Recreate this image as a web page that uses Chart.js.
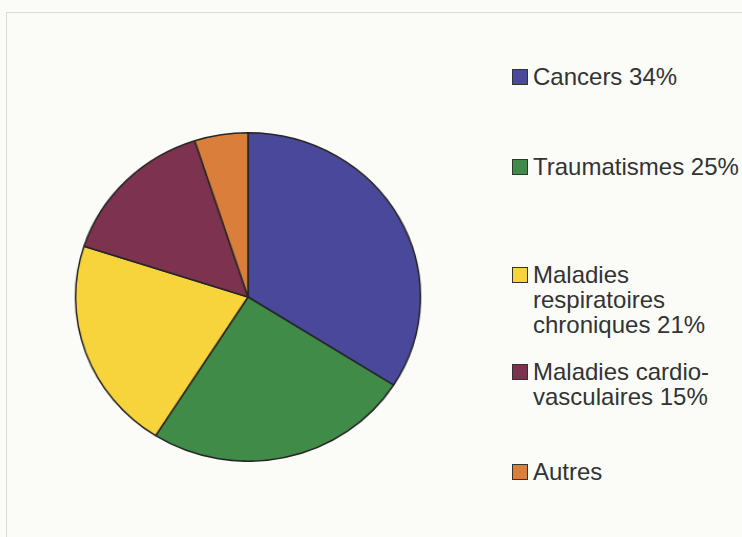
<!DOCTYPE html>
<html>
<head>
<meta charset="utf-8">
<script src="https://cdn.jsdelivr.net/npm/chart.js@4/dist/chart.umd.min.js"></script>
<style>
  html, body { margin: 0; padding: 0; }
  body { width: 742px; height: 537px; background: #FBFCF7; position: relative; overflow: hidden;
         font-family: "Liberation Sans", Arial, sans-serif; }
  #frame { position: absolute; left: 6px; top: 12px; width: 760px; height: 560px;
           border-left: 1px solid #dadad2; border-top: 1px solid #dadad2; }
  #pieWrap { position: absolute; left: 83px; top: 132px; width: 330px; height: 330px;
             transform: scaleX(1.05); transform-origin: 50% 50%; }
  .lg { position: absolute; left: 512px; font-size: 24px; line-height: 25px; color: #333333; }
  .lg .sw { position: absolute; left: 0; width: 14px; height: 14px; border: 1px solid #333; }
  .lg .tx { position: absolute; left: 21px; white-space: nowrap; }
</style>
</head>
<body>
<div id="frame"></div>
<div id="pieWrap"><canvas id="c"></canvas></div>
<div id="legend"></div>
<script>
const categories = ["Cancers", "Traumatismes", "Maladies respiratoires chroniques", "Maladies cardio-vasculaires", "Autres"];
const values = [34, 25, 21, 15, 5];
const legendLines = [
  ["Cancers 34%"],
  ["Traumatismes 25%"],
  ["Maladies", "respiratoires", "chroniques 21%"],
  ["Maladies cardio-", "vasculaires 15%"],
  ["Autres"]
];
const colors = ["#4A489A", "#3F8B47", "#F8D43C", "#7D3350", "#DA7E3B"];
const legendBaselines = [85, 175, 283, 380, 480];

new Chart(document.getElementById("c"), {
  type: "pie",
  data: {
    labels: categories,
    datasets: [{
      data: values,
      backgroundColor: colors,
      borderColor: "#262626",
      borderWidth: 1.5
    }]
  },
  options: {
    responsive: true,
    maintainAspectRatio: false,
    animation: false,
    layout: { padding: 0 },
    plugins: { legend: { display: false }, tooltip: { enabled: false } }
  }
});

const lg = document.getElementById("legend");
legendLines.forEach((lines, i) => {
  const item = document.createElement("div");
  item.className = "lg";
  const top = legendBaselines[i] - 20.8;
  item.style.top = top + "px";
  const sw = document.createElement("div");
  sw.className = "sw";
  sw.style.background = colors[i];
  sw.style.top = (legendBaselines[i] - 16 - top) + "px";
  item.appendChild(sw);
  const tx = document.createElement("div");
  tx.className = "tx";
  tx.innerHTML = lines.join("<br>");
  item.appendChild(tx);
  lg.appendChild(item);
});
</script>
</body>
</html>
